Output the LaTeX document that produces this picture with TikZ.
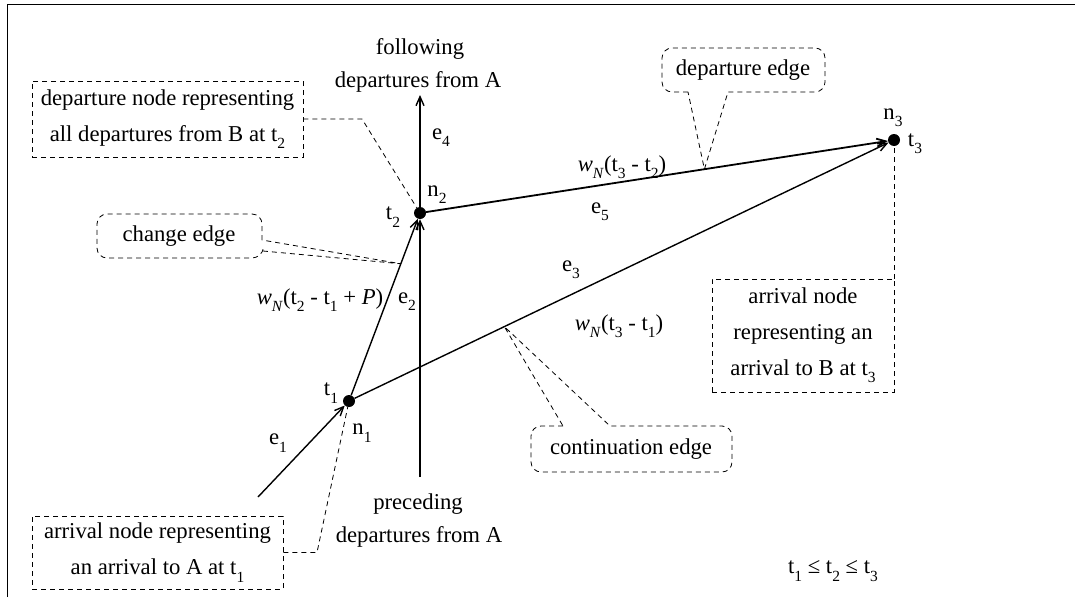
\documentclass[tikz,border=0pt]{standalone}
\usepackage{fontspec}
\setmainfont{Liberation Serif}
\usetikzlibrary{arrows.meta,calc}
\newcommand{\dn}[1]{\raisebox{-0.7ex}{\fontsize{15.5}{15.5}\selectfont #1}}
\begin{document}
\begin{tikzpicture}[x=1pt,y=-1pt,
  lbl/.style={font=\fontsize{22.7}{36}\selectfont, inner sep=0pt},
  dot/.style={circle, fill, inner sep=0pt, minimum size=12pt},
  edge/.style={line width=1.4pt, -{Straight Barb[length=9pt,width=8pt]}},
  lead/.style={dash pattern=on 5pt off 4pt, line width=0.8pt},
  dbox/.style={lbl, draw, lead, align=center},
  ctext/.style={lbl}]
\useasboundingbox (0,0) rectangle (1075,597);
\draw[line width=1pt] (7,597) -- (7,4) -- (1075,4);

% event nodes
\node[dot] (n1) at (349,401) {};
\node[dot] (n2) at (420,213) {};
\node[dot] (n3) at (894,140) {};
\coordinate (pre) at (420,477);
\coordinate (fol) at (420,95);
\coordinate (e1s) at (258,497);

% edges
\draw[edge] (pre) -- (n2);
\draw[edge] (n2) -- (fol);
\draw[edge] (e1s) -- (n1);
\draw[edge] (n1) -- (n2);
\draw[edge] (n1) -- (n3);
\draw[edge, line width=1.8pt] (n2) -- (n3);

% plain labels
\node[lbl] (following) at (420,49) {following};
\node[lbl] (depA1) at (418,82) {departures from A};
\node[lbl] (preceding) at (418,504) {preceding};
\node[lbl] (depA2) at (419,537) {departures from A};
\node[lbl] (e4) at (441,138) {e\dn{4}};
\node[lbl] (n2l) at (437,195) {n\dn{2}};
\node[lbl] (t2l) at (393,217) {t\dn{2}};
\node[lbl] (w32) at (622,167) {\textit{w}\dn{\textit{N}}(t\dn{3} - t\dn{2})};
\node[lbl] (e5) at (600,212) {e\dn{5}};
\node[lbl] (e3) at (571,270) {e\dn{3}};
\node[lbl] (w31) at (619,326) {\textit{w}\dn{\textit{N}}(t\dn{3} - t\dn{1})};
\node[lbl] (w21) at (320,300) {\textit{w}\dn{\textit{N}}(t\dn{2} - t\dn{1} + \textit{P})};
\node[lbl] (e2) at (407,302) {e\dn{2}};
\node[lbl] (t1l) at (331,393) {t\dn{1}};
\node[lbl] (n1l) at (362,433) {n\dn{1}};
\node[lbl] (e1l) at (278,443) {e\dn{1}};
\node[lbl] (n3l) at (893,118) {n\dn{3}};
\node[lbl] (t3l) at (915,144) {t\dn{3}};
\node[lbl] (ineq) at (833,571) {t\dn{1} ≤ t\dn{2} ≤ t\dn{3}};

% dashed rectangular boxes with leaders
\node[dbox, minimum width=271pt, minimum height=76pt] (bdep) at (167.5,119)
  {departure node representing\\all departures from B at t\dn{2}};
\draw[lead] (bdep.east) -- (362,119) -- (n2);
\node[dbox, minimum width=251pt, minimum height=73pt] (barrA) at (157.5,552.5)
  {arrival node representing\\an arrival to A at t\dn{1}};
\draw[lead] (barrA.east) -- (317,552.5) -- (n1);
\node[dbox, minimum width=182pt, minimum height=113pt] (barrB) at (803,335.5)
  {arrival node\\representing an\\arrival to B at t\dn{3}};
\draw[lead] (barrB.north east) -- (barrB.north east |- n3.south);

% callouts
\coordinate (pc) at ($(n1)!0.73!(n2)$);
\coordinate (pd) at ($(n2)!0.6!(n3)$);
\coordinate (pk) at ($(n1)!0.285!(n3)$);
\node[ctext] (change) at (179,236) {change edge};
\draw[lead, rounded corners=10pt] (262,240) -- (262,214) -- (97,214) -- (97,258) -- (262,258)
  [sharp corners] -- (263,251) -- (pc) -- (262,240);
\node[ctext] (depedge) at (743,70) {departure edge};
\draw[lead, rounded corners=10pt] (688,92) -- (662,92) -- (662,48) -- (825,48) -- (825,92)
  [sharp corners] -- (728,92) -- (pd) -- (688,92);
\node[ctext] (contedge) at (631,449) {continuation edge};
\draw[lead, rounded corners=10pt] (563,426) -- (531,426) -- (531,472) -- (732,472) -- (732,426)
  [sharp corners] -- (610,426) -- (pk) -- (563,426);
\end{tikzpicture}
\end{document}
